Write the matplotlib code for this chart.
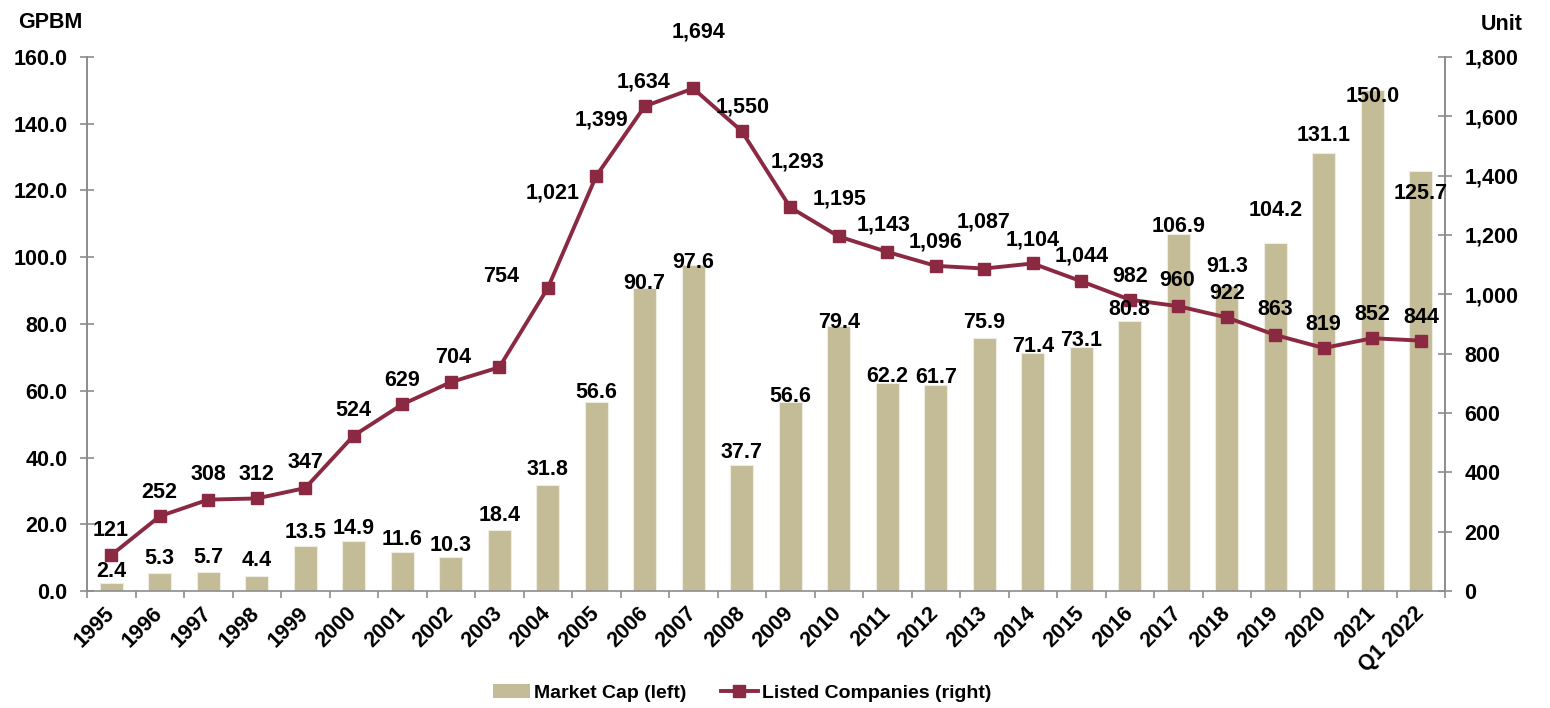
import matplotlib
matplotlib.use("Agg")
from matplotlib import pyplot as plt
from matplotlib.lines import Line2D
from matplotlib.patches import Patch
import numpy as np

plt.rcParams['font.family'] = ['Liberation Sans', 'DejaVu Sans']
plt.rcParams['font.weight'] = 'bold'

years = ["1995", "1996", "1997", "1998", "1999", "2000", "2001", "2002", "2003", "2004",
         "2005", "2006", "2007", "2008", "2009", "2010", "2011", "2012", "2013", "2014",
         "2015", "2016", "2017", "2018", "2019", "2020", "2021", "Q1 2022"]
market_cap = [2.4, 5.3, 5.7, 4.4, 13.5, 14.9, 11.6, 10.3, 18.4, 31.8,
              56.6, 90.7, 97.6, 37.7, 56.6, 79.4, 62.2, 61.7, 75.9, 71.4,
              73.1, 80.8, 106.9, 91.3, 104.2, 131.1, 150.0, 125.7]
listed = [121, 252, 308, 312, 347, 524, 629, 704, 754, 1021,
          1399, 1634, 1694, 1550, 1293, 1195, 1143, 1096, 1087, 1104,
          1044, 982, 960, 922, 863, 819, 852, 844]

# label offsets in pixels (dx, dy) from the mark
line_off = [(-1, 25), (-1, 24), (0, 25), (0, 24), (0, 26), (0, 25), (0, 24), (2, 25), (2, 91), (5, 95),
            (5, 56), (-1, 24), (5, 56), (1, 24), (7, 45), (1, 37), (-4, 27), (0, 24), (-1, 47), (0, 23),
            (0, 25), (0, 23), (-1, 26), (0, 24), (0, 25), (-1, 24), (0, 24), (1, 23)]
bar_off = [11, 15, 14, 16, 13, 13, 13, 11, 14, 15,
           10, 5, 3, 13, 6, 4, 7, 8, 15, 6,
           7, 12, 8, 20, 33, 18, -6, -22]

bar_color = "#C4BC96"
line_color = "#8B2942"
spine_color = "#8C8C8C"
fs = 15.5

fig = plt.figure(figsize=(15.5, 7.08), dpi=100)
ax = fig.add_axes([87 / 1550, 117 / 708, 1358 / 1550, 534 / 708])
x = np.arange(len(years))

ax.bar(x, market_cap, width=0.48, color=bar_color, edgecolor="#EFEDE3", linewidth=0.8, zorder=2)
ax.set_xlim(-0.5, len(years) - 0.5)
ax.set_ylim(0, 160)
ax.set_yticks(np.arange(0, 161, 20))
ax.set_yticklabels([f"{v:.1f}" for v in np.arange(0, 161, 20)])

ax2 = ax.twinx()
ax2.plot(x, listed, color=line_color, linewidth=2.8, marker="s", markersize=8.5,
         markerfacecolor=line_color, markeredgecolor=line_color, zorder=3)
ax2.set_ylim(0, 1800)
ax2.set_yticks(np.arange(0, 1801, 200))
ax2.set_yticklabels([f"{v:,}" for v in range(0, 1801, 200)])

for a in (ax, ax2):
    a.spines['top'].set_visible(False)
    for s in ('left', 'right', 'bottom'):
        a.spines[s].set_color(spine_color)
        a.spines[s].set_linewidth(1.2)
    a.tick_params(axis='y', direction='inout', length=10, width=1.2, color=spine_color,
                  labelsize=fs, pad=9)
ax2.spines['bottom'].set_visible(False)

# category ticks between bars, labels at centres
ax.set_xticks(x)
ax.set_xticklabels(years, rotation=45, ha='right', rotation_mode='anchor', fontsize=fs)
ax.tick_params(axis='x', which='major', length=0, pad=14)
ax.set_xticks(np.arange(-0.5, len(years), 1), minor=True)
ax.tick_params(axis='x', which='minor', direction='out', length=5, width=1.2, color=spine_color)
for lbl in ax.get_xticklabels():
    lbl.set_va('center')

for a in (ax, ax2):
    for lbl in a.get_yticklabels() + a.get_xticklabels():
        lbl.set_fontweight('bold')

# data labels
for i, v in enumerate(market_cap):
    ax2.annotate(f"{v:.1f}", xy=(x[i], v), xycoords=ax.transData,
                 xytext=(0, bar_off[i]), textcoords='offset pixels',
                 ha='center', va='center', fontsize=fs, fontweight='bold', zorder=5)
for i, v in enumerate(listed):
    dx, dy = line_off[i]
    ax2.annotate(f"{v:,}", xy=(x[i], v), xytext=(dx, dy), textcoords='offset pixels',
                 ha='center', va='center', fontsize=fs, fontweight='bold', zorder=5)

fig.text(50 / 1550, 1 - 23 / 708, "GPBM", ha='center', va='center', fontsize=fs, fontweight='bold')
fig.text(1502 / 1550, 1 - 25 / 708, "Unit", ha='center', va='center', fontsize=fs, fontweight='bold')

handles = [Patch(facecolor=bar_color, edgecolor='none'),
           Line2D([0], [0], color=line_color, linewidth=2.8, marker='s', markersize=8.5)]
fig.legend(handles, ["Market Cap (left)", "Listed Companies (right)"], loc='center',
           bbox_to_anchor=(742 / 1550, 1 - 693 / 708), ncol=2, frameon=False,
           prop={'size': 14, 'weight': 'bold'}, handlelength=1.9, handletextpad=0.2,
           columnspacing=1.8)

fig.savefig("out.png", dpi=100)
